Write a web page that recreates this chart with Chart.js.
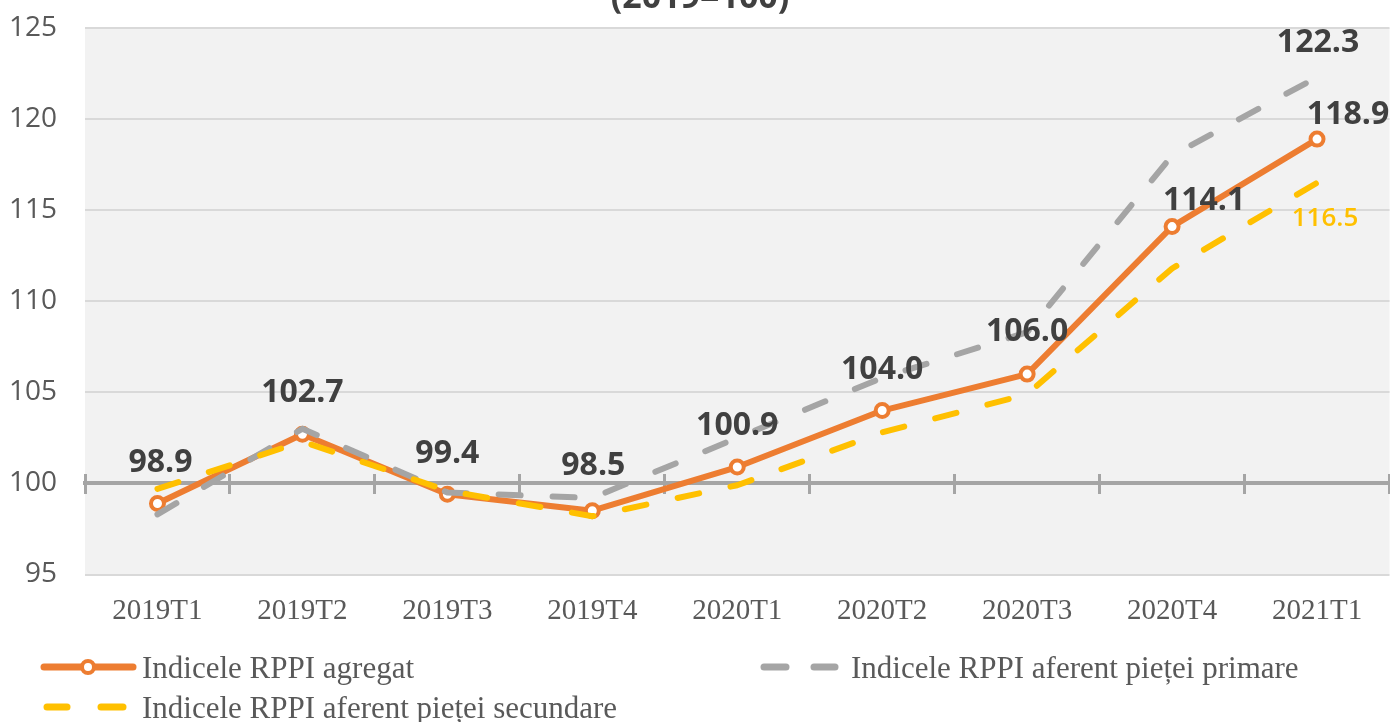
<!DOCTYPE html>
<html>
<head>
<meta charset="utf-8">
<script src="https://cdn.jsdelivr.net/npm/chart.js@4.4.1/dist/chart.umd.min.js"></script>
<style>
  html, body { margin:0; padding:0; background:#ffffff; overflow:hidden; width:1390px; height:722px; }
  #wrap { position:absolute; left:0; top:0; width:1400px; height:640px; }
  .leg { position:absolute; font-family:"Liberation Serif", serif; font-size:31px; color:#595959; white-space:nowrap; line-height:1; }
  #legsym { position:absolute; left:0; top:0; }
</style>
</head>
<body>
<div id="wrap"><canvas id="c" width="1400" height="640" style="width:1400px;height:640px;"></canvas></div>

<svg id="legsym" width="1390" height="722">
  <line x1="44" y1="667" x2="133" y2="667" stroke="#ed7d31" stroke-width="7" stroke-linecap="round"/>
  <circle cx="88" cy="667" r="6" fill="#ffffff" stroke="#ed7d31" stroke-width="4"/>
  <line x1="764" y1="667" x2="786" y2="667" stroke="#a5a5a5" stroke-width="7" stroke-linecap="round"/>
  <line x1="814" y1="667" x2="835" y2="667" stroke="#a5a5a5" stroke-width="7" stroke-linecap="round"/>
  <line x1="47" y1="707" x2="67" y2="707" stroke="#ffc000" stroke-width="7" stroke-linecap="round"/>
  <line x1="101" y1="707" x2="123" y2="707" stroke="#ffc000" stroke-width="7" stroke-linecap="round"/>
</svg>
<div class="leg" id="leg0" style="left:142px; top:652px;"></div>
<div class="leg" id="leg1" style="left:851px; top:652px;"></div>
<div class="leg" id="leg2" style="left:142px; top:692px;"></div>

<script>
// ---- data ----
const categories = ['2019T1','2019T2','2019T3','2019T4','2020T1','2020T2','2020T3','2020T4','2021T1'];
const agregat   = [98.9, 102.7, 99.4, 98.5, 100.9, 104.0, 106.0, 114.1, 118.9];
const primara   = [98.3, 103.0, 99.5, 99.2, 102.5, 105.8, 108.3, 118.0, 122.3];
const secundara = [99.7, 102.3, 99.6, 98.2,  99.9, 102.8, 104.9, 111.8, 116.5];
const yTickValues = [95, 100, 105, 110, 115, 120, 125];
const seriesNames = ['Indicele RPPI agregat', 'Indicele RPPI aferent pieței primare', 'Indicele RPPI aferent pieței secundare'];
const titleText = '(2019=100)';

document.getElementById('leg0').textContent = seriesNames[0];
document.getElementById('leg1').textContent = seriesNames[1];
document.getElementById('leg2').textContent = seriesNames[2];

// ---- label styling (positions relative to points) ----
const labelCfg = [
  { idx: 'all', font: 'bold 32px "Open Sans"', size: 32, color: '#404040',
    off: { d: [0, -43], 0: [3, -43], 1: [0, -44], 3: [1, -47], 6: [0, -45], 7: [32, -28], 8: [31, -27] } },
  { idx: [8], font: 'bold 32px "Open Sans"', size: 32, color: '#404040', off: { d: [1, -37] } },
  { idx: [8], font: '600 26px "Open Sans"', size: 26, color: '#ffc000', off: { d: [8, 34] } }
];

const bgPlugin = {
  id: 'plotBg',
  beforeDraw(chart) {
    const { ctx, chartArea: a } = chart;
    ctx.save();
    ctx.fillStyle = '#f2f2f2';
    ctx.fillRect(a.left, a.top, a.right - a.left, a.bottom - a.top);
    ctx.restore();
  }
};

const titlePlugin = {
  id: 'topTitle',
  afterDraw(chart) {
    const ctx = chart.ctx;
    ctx.save();
    ctx.font = 'bold 34px "Open Sans"';
    ctx.fillStyle = '#404040';
    ctx.textAlign = 'center';
    ctx.textBaseline = 'alphabetic';
    ctx.fillText(titleText, chart.width / 2, 8);
    ctx.restore();
  }
};

const valueLabels = {
  id: 'valueLabels',
  afterDatasetsDraw(chart) {
    const ctx = chart.ctx;
    chart.data.datasets.forEach((ds, di) => {
      const cfg = labelCfg[di];
      const meta = chart.getDatasetMeta(di);
      meta.data.forEach((pt, i) => {
        if (cfg.idx !== 'all' && !cfg.idx.includes(i)) return;
        const o = cfg.off[i] || cfg.off.d;
        ctx.save();
        ctx.font = cfg.font;
        ctx.fillStyle = cfg.color;
        ctx.textAlign = 'center';
        ctx.textBaseline = 'alphabetic';
        ctx.fillText(ds.data[i].toFixed(1), pt.x + o[0], pt.y + o[1] + cfg.size * 0.357);
        ctx.restore();
      });
    });
  }
};

new Chart(document.getElementById('c'), {
  type: 'line',
  data: {
    labels: categories,
    datasets: [
      { label: seriesNames[0], data: agregat, order: 3,
        borderColor: '#ed7d31', borderWidth: 6, tension: 0,
        pointRadius: 6.5, pointBorderWidth: 4, pointBackgroundColor: '#ffffff', pointBorderColor: '#ed7d31',
        borderCapStyle: 'round', borderJoinStyle: 'round' },
      { label: seriesNames[1], data: primara, order: 2,
        borderColor: '#a5a5a5', borderWidth: 6, tension: 0, pointRadius: 0,
        borderDash: [22, 32], borderCapStyle: 'round', borderJoinStyle: 'round' },
      { label: seriesNames[2], data: secundara, order: 1,
        borderColor: '#ffc000', borderWidth: 6, tension: 0, pointRadius: 0,
        borderDash: [22, 32], borderCapStyle: 'round', borderJoinStyle: 'round' }
    ]
  },
  options: {
    responsive: false,
    animation: false,
    events: [],
    layout: { padding: { top: 28, right: 5, left: 0, bottom: 0 } },
    plugins: { legend: { display: false }, tooltip: { enabled: false }, title: { display: false } },
    scales: {
      x: {
        type: 'category', offset: true,
        grid: { display: false, drawTicks: false },
        border: { display: false },
        ticks: { font: { family: '"Liberation Serif"', size: 29 }, color: '#595959', padding: 19, maxRotation: 0, autoSkip: false },
        afterFit(s) { s.height = 65.5; }
      },
      xLine: {
        type: 'category', position: { y: 100 }, offset: true,
        grid: { offset: true, drawOnChartArea: false, drawTicks: true, tickLength: 9, tickWidth: 3, tickColor: '#a5a5a5' },
        border: { display: true, color: '#a5a5a5', width: 4 },
        ticks: { display: false }
      },
      xTickUp: {
        type: 'category', position: { y: 100 }, offset: true,
        grid: { offset: true, drawOnChartArea: false, drawTicks: true, tickLength: -9, tickWidth: 3, tickColor: '#a5a5a5' },
        border: { display: false },
        ticks: { display: false }
      },
      y: {
        min: 95, max: 125,
        afterBuildTicks(s) { s.ticks = yTickValues.map(v => ({ value: v })); },
        grid: { color: '#d9d9d9', lineWidth: 2, drawTicks: false },
        border: { display: false },
        ticks: { font: { family: '"Open Sans"', size: 28 }, color: '#595959', padding: 28 },
        afterFit(s) { s.width = 85; s.paddingTop = 0; s.paddingBottom = 0; }
      }
    }
  },
  plugins: [bgPlugin, valueLabels, titlePlugin]
});
</script>
</body>
</html>
